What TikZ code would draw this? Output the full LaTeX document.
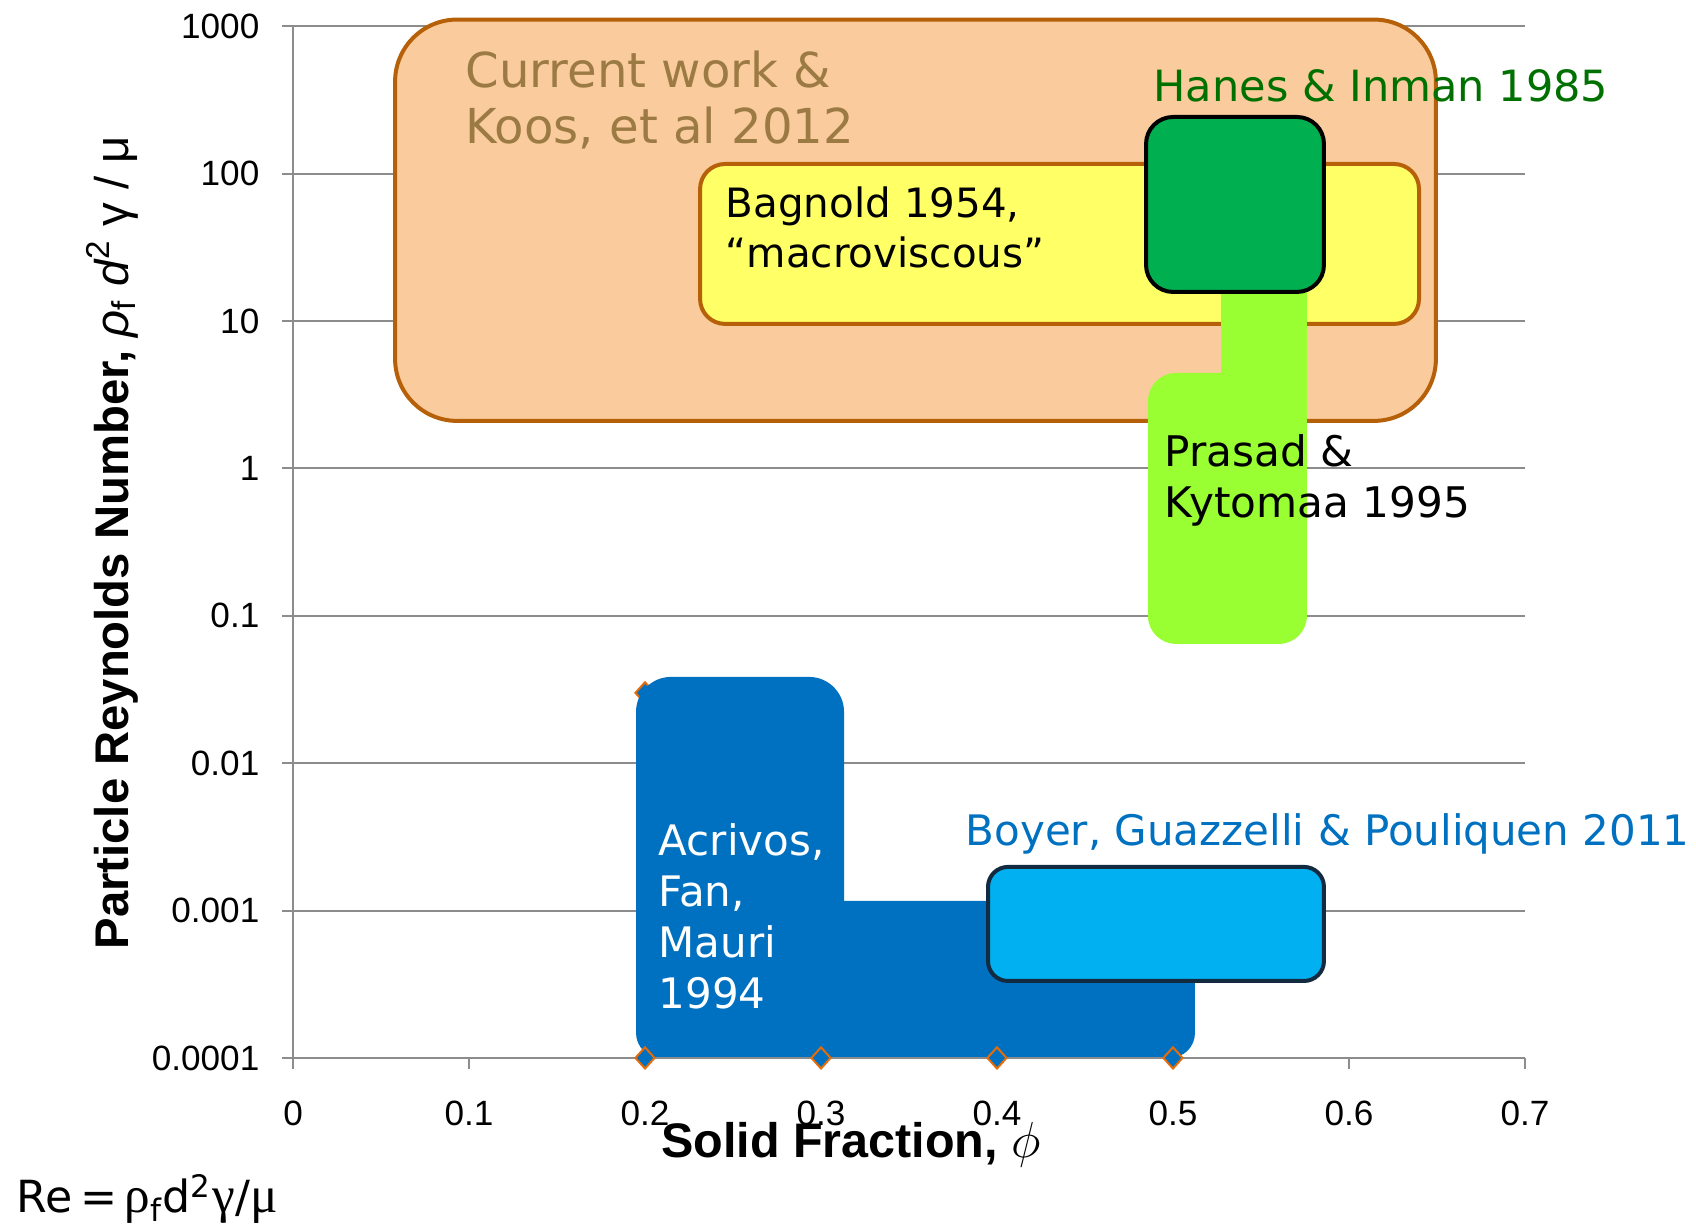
\documentclass[tikz,border=0pt]{standalone}
\usepackage{fontspec}
\setmainfont{Liberation Sans}
\newfontfamily\notefont{DejaVu Sans}
\newfontfamily\greekfont{Liberation Serif}
\usetikzlibrary{shapes.geometric}

\definecolor{gridgray}{RGB}{140,140,140}
\definecolor{koosfill}{RGB}{250,203,156}
\definecolor{koosedge}{RGB}{182,96,10}
\definecolor{koostext}{RGB}{156,122,68}
\definecolor{bagnoldfill}{RGB}{255,255,102}
\definecolor{hanesfill}{RGB}{0,176,80}
\definecolor{hanestext}{RGB}{0,112,0}
\definecolor{prasadfill}{RGB}{153,255,51}
\definecolor{acrivosfill}{RGB}{0,112,192}
\definecolor{boyerfill}{RGB}{0,176,240}
\definecolor{boyeredge}{RGB}{19,43,64}
\definecolor{markeredge}{RGB}{228,108,10}

\newcommand\gk[1]{{\greekfont\fontsize{14.6pt}{16pt}\selectfont #1}}

\tikzset{
  gridline/.style={draw=gridgray, line width=0.02cm},
  regime/.style={line width=0.04cm},
  note/.style={inner sep=0, align=left},
  ticklabel/.style={font={\fontsize{10pt}{12pt}\selectfont}, inner sep=0},
  axistitle/.style={inner sep=0},
  marker/.style={diamond, draw=markeredge, fill=acrivosfill, line width=0.02cm,
    minimum width=0.2cm, minimum height=0.22cm, inner sep=0}
}

\begin{document}
\begin{tikzpicture}[x=17.6cm, y=1.474cm]
\useasboundingbox (-0.1665,-1.1398) rectangle (0.7972,7.1777);

% grid, y axis and labels
\foreach \d/\lab in {0/0.0001,1/0.001,2/0.01,3/0.1,4/1,5/10,6/100,7/1000} {
  \ifnum\d>0 \draw[gridline] (-0.00625,\d) -- (0.7,\d); \fi
  \node[ticklabel, anchor=east] (ylab\d) at (-0.01875,\d) {\lab};
}
\draw[gridline] (0,0) -- (0,7);
\foreach \x/\lab in {0/0,0.1/0.1,0.2/0.2,0.3/0.3,0.4/0.4,0.5/0.5,0.6/0.6,0.7/0.7} {
  \draw[gridline] (\x,0) -- (\x,-0.0746);
  \node[ticklabel] (xlab\lab) at (\x,-0.3731) {\lab};
}

% Koos / current work
\draw[regime, draw=koosedge, fill=koosfill, rounded corners=0.62cm]
  (0.0580,4.322) rectangle (0.6494,7.045);
\node[note, anchor=north west, text=koostext,
  font={\notefont\fontsize{13.7pt}{16.2pt}\selectfont}] (koos) at (0.0977,6.84)
  {Current work \&\\Koos, et al 2012};

% Bagnold
\draw[regime, draw=koosedge, fill=bagnoldfill, rounded corners=0.25cm]
  (0.2313,4.980) rectangle (0.6398,6.065);
\node[note, anchor=north west,
  font={\notefont\fontsize{11.5pt}{14.2pt}\selectfont}] (bagnold) at (0.2455,5.916)
  {Bagnold 1954,\\“macroviscous”};

% Prasad & Kytomaa
\fill[prasadfill, rounded corners=0.28cm] (0.4858,2.809) rectangle (0.5761,4.647);
\fill[prasadfill] (0.5273,3.9) rectangle (0.5761,5.414);
\node[note, anchor=north west,
  font={\notefont\fontsize{12pt}{14.5pt}\selectfont}] (prasad) at (0.4950,4.233)
  {Prasad \&\\Kytomaa 1995};

% Hanes & Inman
\draw[line width=0.04cm, draw=black, fill=hanesfill, rounded corners=0.27cm]
  (0.4847,5.197) rectangle (0.5858,6.384);
\node[note, anchor=base west, text=hanestext,
  font={\notefont\fontsize{12.25pt}{15pt}\selectfont}] (hanes) at (0.4886,6.492)
  {Hanes \& Inman 1985};

% Acrivos, Fan, Mauri
\node[marker] (mtop) at (0.2,2.477) {};
\fill[acrivosfill, rounded corners=0.35cm] (0.1949,0) rectangle (0.3131,2.585);
\fill[acrivosfill, rounded corners=0.25cm] (0.1949,0) rectangle (0.5125,1.065);
\node[note, anchor=north west, text=white,
  font={\notefont\fontsize{11.95pt}{14.5pt}\selectfont}] (acrivos) at (0.2074,1.594)
  {Acrivos,\\Fan,\\Mauri\\1994};

% Boyer, Guazzelli & Pouliquen
\draw[line width=0.04cm, draw=boyeredge, fill=boyerfill, rounded corners=0.2cm]
  (0.3949,0.522) rectangle (0.5858,1.296);
\node[note, anchor=base west, text=acrivosfill,
  font={\notefont\fontsize{11.95pt}{14.5pt}\selectfont}] (boyer) at (0.3818,1.438)
  {Boyer, Guazzelli \& Pouliquen 2011};

% x axis on top, with the markers
\draw[gridline] (-0.00625,0) -- (0.7,0);
\foreach \x [count=\i] in {0.2,0.3,0.4,0.5}
  \node[marker] (m\i) at (\x,0) {};

% axis titles
\node[axistitle, rotate=90, anchor=base, font={\fontsize{13.45pt}{15pt}\selectfont}]
  (ytitle) at (-0.09375,3.494)
  {\textbf{Particle Reynolds Number,} {\itshape ρ}\textsubscript{f}
   {\itshape d}\textsuperscript{2}\ γ / μ};
\node[axistitle, anchor=base, font={\fontsize{13.8pt}{15pt}\selectfont\bfseries}]
  (xtitle) at (0.3170,-0.6784) {Solid Fraction, $\phi$};

% definition
\node[note, anchor=base west,
  font={\notefont\fontsize{12.6pt}{14pt}\selectfont}] (redef) at (-0.1574,-1.0516)
  {Re\,=\,\gk{ρ}\textsubscript{f}d\textsuperscript{2}\gk{γ}/\gk{μ}};
\end{tikzpicture}
\end{document}
